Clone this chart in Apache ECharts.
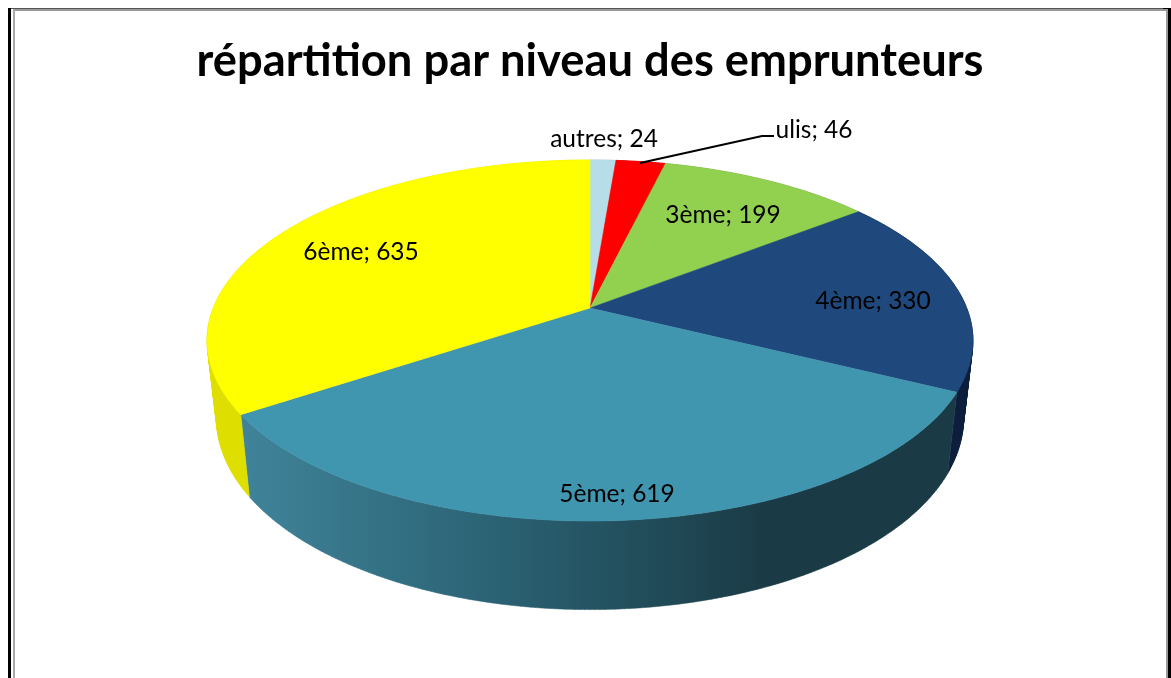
<!DOCTYPE html>
<html>
<head>
<meta charset="utf-8">
<title>répartition par niveau des emprunteurs</title>
<script src="https://cdn.jsdelivr.net/npm/echarts@6/dist/echarts.min.js"></script>
<style>
  html, body { margin: 0; padding: 0; background: #fff; }
  #chart { width: 1171px; height: 678px; }
</style>
</head>
<body>
<div id="chart"></div>
<script>
/* -------------------------------------------------------------------------- */
/*                                   Data                                     */
/* -------------------------------------------------------------------------- */
// clockwise from 12 o'clock, same order as the reference
const niveaux = ['autres', 'ulis', '3ème', '4ème', '5ème', '6ème'];
const emprunteurs = [24, 46, 199, 330, 619, 635];

const faceColors = ['#B7DDE8', '#FF0000', '#92D050', '#1F497D', '#4095AF', '#FFFF00'];
const wallColors = ['#8FB0B9', '#B00000', '#6E9E3C', '#0C1F3D', null, '#DEDE00'];
const labelCenters = [[604, 139], [814, 130], [723, 215], [873, 301], [617, 494], [361, 252]];

const total = emprunteurs.reduce((a, b) => a + b, 0);

// the pie is a flat disc seen in perspective, so a slice angle has to be projected
const disc = { cx: 590, perspective: 0.18 };
const topPlane = { y: 308, a: 376.7, b: 174.7 };
const bottomPlane = { y: 384, a: 367.4, b: 185 };

const project = (plane, angle) => {
  const x = Math.sin(angle);
  const y = -Math.cos(angle);
  const w = 1 - disc.perspective * y;
  return [disc.cx + (plane.a * x) / w, plane.y + (plane.b * y) / w];
};

const sliceAngles = index => {
  const before = emprunteurs.slice(0, index).reduce((a, b) => a + b, 0);
  return [
    (before / total) * Math.PI * 2,
    ((before + emprunteurs[index]) / total) * Math.PI * 2,
  ];
};

const rim = (plane, from, to) => {
  const steps = Math.max(2, Math.ceil(Math.abs(to - from) * 90));
  const points = [];
  for (let i = 0; i <= steps; i++) {
    points.push(project(plane, from + ((to - from) * i) / steps));
  }
  return points;
};

const seriesData = niveaux.map((name, i) => ({ name, value: [i, emprunteurs[i]] }));

// front wall of the big teal slice goes from mid teal to almost black
const tealWall = new echarts.graphic.LinearGradient(240, 0, 770, 0, [
  { offset: 0, color: '#40849A' },
  { offset: 0.5, color: '#2A6172' },
  { offset: 1, color: '#1A3A45' },
], true);

const quadPath = quad => {
  // same winding for every strip, otherwise overlaps cancel out near the sides
  let area = 0;
  quad.forEach((p, k) => {
    const q = quad[(k + 1) % quad.length];
    area += p[0] * q[1] - q[0] * p[1];
  });
  const pts = area < 0 ? quad.slice().reverse() : quad;
  return 'M' + pts.map(p => p[0].toFixed(2) + ' ' + p[1].toFixed(2)).join('L') + 'Z';
};

const renderWall = (params, api) => {
  const i = api.value(0);
  const [from, to] = sliceAngles(i);
  const topRim = rim(topPlane, from, to);
  const bottomRim = rim(bottomPlane, from, to);
  // one path made of strips: a plain outline would lose the straight silhouette at the sides
  const pathData = topRim
    .slice(1)
    .map((p, k) => quadPath([topRim[k], p, bottomRim[k + 1], bottomRim[k]]))
    .join('');
  const fill = wallColors[i] || tealWall;
  return {
    type: 'path',
    shape: { pathData },
    style: { fill, stroke: fill, lineWidth: 0.5 },
    silent: true,
  };
};

const renderFace = (params, api) => {
  const i = api.value(0);
  const [from, to] = sliceAngles(i);
  const points = [[disc.cx, topPlane.y]].concat(rim(topPlane, from, to));
  return {
    type: 'polygon',
    shape: { points },
    style: { fill: faceColors[i], stroke: faceColors[i], lineWidth: 0.5 },
    silent: true,
  };
};

const renderLabel = (params, api) => {
  const i = api.value(0);
  const [x, y] = labelCenters[i];
  return {
    type: 'text',
    style: {
      x,
      y,
      text: `${niveaux[i]}; ${api.value(1)}`,
      fill: '#000',
      font: '24.5px Lato',
      align: 'center',
      verticalAlign: 'middle',
    },
    silent: true,
  };
};

const customSeries = renderItem => ({
  type: 'custom',
  coordinateSystem: 'none',
  renderItem,
  data: seriesData,
  animation: false,
});

const frameLine = (x, y, width, height, fill) => ({
  type: 'rect',
  shape: { x, y, width, height },
  style: { fill },
  silent: true,
});

const chart = echarts.init(document.getElementById('chart'), null, { renderer: 'canvas' });

chart.setOption({
  animation: false,
  backgroundColor: '#fff',
  title: {
    text: 'répartition par niveau des emprunteurs',
    left: 585,
    top: 34,
    textAlign: 'center',
    textStyle: { fontFamily: 'Lato', fontWeight: 'bold', fontSize: 45.3, color: '#000' },
  },
  tooltip: { show: false },
  legend: { show: false },
  graphic: [
    frameLine(8, 8, 1155, 1, '#555'),
    frameLine(13, 9, 1153, 2, '#999'),
    frameLine(8, 8, 3, 670, '#000'),
    frameLine(13, 9, 2, 669, '#AAA'),
    frameLine(1166, 9, 2, 669, '#999'),
    frameLine(1168, 8, 3, 670, '#000'),
    frameLine(1163, 8, 8, 1, '#000'),
    {
      type: 'polyline',
      shape: { points: [[640, 163], [762, 136], [774, 136]] },
      style: { stroke: '#000', lineWidth: 2, fill: null },
      z: 10,
      silent: true,
    },
  ],
  series: [customSeries(renderWall), customSeries(renderFace), customSeries(renderLabel)],
});
</script>
</body>
</html>
